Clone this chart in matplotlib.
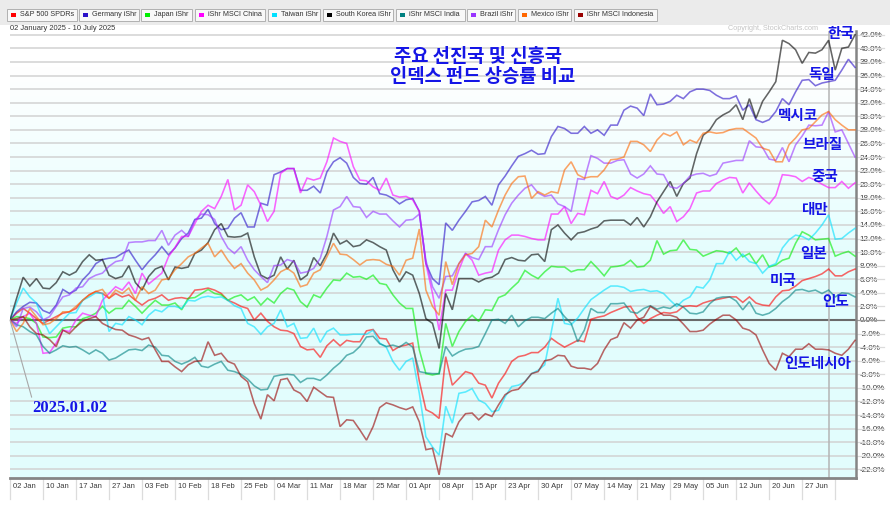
import numpy as np
import pandas as pd
import matplotlib
matplotlib.use("Agg")
import matplotlib.pyplot as plt
from matplotlib import transforms
from matplotlib.patches import Rectangle

# trading days (US market), 02 Jan 2025 - 10 Jul 2025
holidays = ["2025-01-09", "2025-01-20", "2025-02-17", "2025-04-18",
            "2025-05-26", "2025-06-19", "2025-07-04"]
days = pd.bdate_range("2025-01-02", "2025-07-10")
days = days[~days.isin(pd.to_datetime(holidays))]
cursor_day = "2025-07-03"

names = ["S&P 500 SPDRs", "Germany iShr", "Japan iShr", "iShr MSCI China", "Taiwan iShr",
         "South Korea iShr", "iShr MSCI India", "Brazil iShr", "Mexico iShr", "iShr MSCI Indonesia"]
colors = ["#ff0000", "#2a10c8", "#00ee00", "#ff00ff", "#00e0ff",
          "#000000", "#008080", "#9933ff", "#ff6600", "#990000"]
kr_names = ["미국", "독일", "일본", "중국", "대만", "한국", "인도", "브라질", "멕시코", "인도네시아"]

# % change since 02 Jan 2025
usa = [0, 1.0, 1.7, 1.0, 0.2, -0.5, 0, 0.5, 1.0, 1.2, 1.7, 2.9, 3.7, 4.2, 3.9, 3.2, 3.9, 3.4, 3.7, 2.9,
       2.2, 2.9, 3.2, 3.7, 2.9, 3.2, 3.3, 3.1, 4.4, 4.5, 4.7, 4.4, 3.9, 2.9, 2.5, 2.0, 1.7, 0, 1.0, -0.2,
       -1.0, -1.5, -1.6, -2.0, -3.9, -4.4, -4.3, -5.5, -3.8, -2.9, -3.8, -3.0, -3.2, -3.2, -1.6, -1.4,
       -2.7, -2.8, -4.5, -3.9, -3.7, -3.4, -9.0, -13.2, -13.7, -14.5, -5.4, -9.6, -8.6, -7.6, -7.9,
       -9.3, -9.6, -11.5, -9.3, -7.9, -6.1, -5.4, -5.2, -4.8, -4.8, -4.0, -2.7, -3.4, -4.0, -3.5, -3.0,
       -3.2, 0.1, 0.4, 0.6, 1.1, 1.5, 1.9, 2.0, 0.4, -0.5, 0.2, 0.7, 1.1, 1.0, 1.2, 2.0, 2.1, 2.0, 2.5,
       2.8, 3.0, 3.2, 3.4, 3.4, 2.6, 3.4, 2.5, 2.2, 2.1, 3.4, 4.3, 4.4, 5.0, 5.8, 6.1, 6.4, 6.8, 7.5,
       6.5, 6.5, 7.1, 7.5]
germany = [0, 1.2, 2.0, 2.6, 2.5, 1.4, 1.0, 2.2, 4.5, 3.9, 4.4, 5.9, 6.9, 8.3, 8.9, 9.1, 9.2, 9.8, 10.3,
           8.8, 7.4, 8.6, 9.6, 10.8, 9.6, 10.6, 12.0, 12.8, 14.8, 15.0, 16.3, 14.2, 13.3, 13.5, 15.0,
           15.8, 13.7, 13.7, 17.2, 16.9, 21.4, 21.8, 22.3, 22.3, 19.1, 19.1, 19.7, 18.7, 21.8, 23.3,
           23.9, 23.1, 21.0, 20.1, 20.0, 21.0, 18.6, 18.4, 17.9, 17.1, 17.7, 17.9, 16.0, 8.3, 6.1, 5.2,
           14.3, 13.2, 14.7, 16.0, 17.4, 17.6, 18.2, 16.9, 19.9, 21.2, 22.7, 24.1, 24.5, 25.0, 24.4,
           24.5, 27.0, 28.5, 28.2, 27.5, 27.5, 28.5, 27.5, 28.0, 27.2, 28.7, 28.7, 30.9, 31.5, 31.2,
           30.1, 33.3, 31.7, 31.8, 32.2, 33.1, 32.6, 33.6, 34.0, 34.0, 33.8, 33.1, 32.6, 32.6, 33.0,
           30.9, 31.7, 29.5, 29.1, 29.5, 30.7, 32.6, 31.7, 33.6, 35.3, 35.4, 34.5, 34.9, 35.1, 35.3,
           36.8, 38.4, 37.2]
japan = [0, 0.5, 0.4, 0.2, -0.5, -2.5, -2.6, -2.5, -1.2, -1.0, -1.0, 0.2, 0.5, 1.0, 2.0, 1.0, 1.7, 1.7,
         2.9, 2.0, 1.0, 2.0, 2.9, 2.2, 2.2, 2.5, 1.5, 3.2, 3.3, 3.9, 4.5, 3.9, 3.7, 2.9, 3.4, 3.7, 2.9,
         3.4, 2.2, 3.2, 2.5, 3.9, 4.7, 4.4, 2.7, 1.9, 3.7, 3.3, 4.7, 5.9, 5.8, 6.9, 6.3, 6.4, 6.0, 6.6,
         5.4, 5.2, 3.7, 2.5, 1.7, 1.7, -4.4, -7.9, -8.1, -7.9, -0.5, -3.9, -1.7, -0.2, 0.7, -0.2, 1.5,
         1.4, 3.3, 3.7, 4.7, 5.6, 7.3, 6.6, 6.1, 7.1, 7.9, 7.8, 7.8, 7.1, 7.4, 7.4, 8.6, 7.6, 6.5, 7.8,
         7.9, 8.1, 8.8, 7.8, 7.9, 8.8, 11.7, 9.7, 10.2, 10.3, 11.8, 10.4, 10.3, 9.4, 9.8, 10.2, 10.1,
         9.8, 10.6, 9.3, 9.8, 8.3, 9.6, 7.8, 8.1, 8.8, 9.1, 11.3, 13.0, 12.5, 11.8, 11.9, 12.0, 9.4,
         9.8, 10.1, 9.4]
china = [0, -0.5, 0.5, 1.0, -0.5, -4.9, -4.8, -3.4, -1.5, -1.7, 0, 1.0, 0.7, 0.5, 2.9, 3.9, 4.9, 4.4,
         5.6, 3.9, 6.9, 5.3, 6.1, 6.9, 9.3, 10.7, 12.3, 12.3, 14.2, 16.0, 16.9, 16.4, 18.2, 20.7, 16.2,
         16.9, 19.9, 18.9, 16.9, 14.5, 16.0, 21.6, 22.3, 22.3, 18.7, 20.9, 20.6, 20.9, 23.3, 26.8, 26.3,
         26.0, 22.6, 20.6, 20.5, 19.6, 19.1, 20.9, 18.4, 18.1, 18.2, 17.7, 16.0, 8.3, 3.9, -1.5, 4.4,
         4.4, 7.4, 9.8, 8.8, 6.6, 6.9, 7.1, 10.3, 11.8, 12.5, 12.5, 12.3, 12.0, 11.8, 11.8, 15.6, 15.6,
         16.7, 14.2, 15.7, 15.5, 19.1, 18.6, 20.4, 18.2, 17.8, 18.4, 19.5, 19.0, 18.6, 18.4, 17.2,
         15.7, 16.7, 14.5, 15.2, 16.4, 18.7, 19.0, 19.0, 20.1, 20.6, 21.0, 20.9, 18.7, 20.2, 19.0,
         17.9, 17.1, 18.3, 21.4, 21.3, 21.1, 20.4, 21.0, 20.6, 20.0, 19.5, 19.5, 20.4, 19.4, 20.2]
taiwan = [0, 2.5, 4.7, 3.4, 2.5, 0, -2.0, -1.0, 0, 1.0, 1.1, 2.9, 3.4, 4.0, 3.9, -1.7, -0.5, -0.7, 0.5,
          0, -0.7, 0.7, 1.5, 1.2, 2.0, 2.0, 1.7, 2.9, 2.8, 3.3, 3.5, 3.3, 3.4, 2.9, 2.1, 1.7, -0.5,
          -1.0, -2.1, -1.0, -0.5, 1.5, -1.0, -0.5, -2.7, -2.6, -1.2, -3.3, -1.7, -1.2, -2.2, -2.2,
          -2.1, -2.1, -2.1, -1.5, -3.4, -4.0, -6.1, -7.4, -6.1, -5.6, -10.8, -17.2, -18.7, -19.9,
          -12.7, -15.2, -10.8, -10.6, -10.1, -11.8, -12.3, -13.5, -13.3, -11.3, -9.8, -9.6, -9.1,
          -7.9, -7.4, -6.6, -1.7, 3.2, -0.5, -0.7, 0.3, 1.7, 3.0, 3.7, 4.4, 5.0, 5.0, 4.8, 4.2, 4.4,
          4.5, 4.2, 4.3, 3.9, 2.9, 2.0, 2.9, 3.4, 4.9, 4.7, 5.9, 8.3, 8.3, 10.1, 8.8, 9.7, 8.6, 8.3,
          6.9, 7.9, 8.3, 10.6, 11.8, 12.5, 12.3, 11.8, 12.8, 14.0, 15.5, 11.9, 12.0, 12.8, 13.5]
korea = [0, 3.2, 6.3, 5.0, 6.1, 4.7, 4.6, 5.5, 7.1, 6.6, 7.1, 8.6, 9.6, 8.8, 8.9, 6.6, 6.1, 6.4, 8.0,
         5.5, 4.4, 6.4, 7.5, 7.9, 5.9, 7.8, 7.6, 7.8, 9.8, 10.3, 11.4, 13.3, 14.2, 12.3, 12.2, 12.3,
         12.8, 9.3, 6.6, 6.1, 6.6, 9.3, 7.5, 8.8, 5.9, 6.6, 9.2, 8.0, 9.8, 12.8, 11.2, 11.7, 10.8,
         11.0, 11.8, 11.4, 10.8, 10.3, 7.4, 5.6, 7.1, 6.6, 3.9, 0.2, -0.5, -4.2, 3.9, 1.5, 6.1, 6.1,
         6.1, 5.6, 6.1, 6.3, 6.9, 8.9, 9.2, 8.8, 8.7, 9.6, 9.7, 8.6, 13.3, 14.0, 12.8, 11.8, 12.8,
         13.0, 13.4, 13.7, 14.6, 14.7, 14.7, 14.7, 14.0, 15.1, 13.7, 15.2, 17.4, 18.9, 20.4, 18.2,
         20.1, 20.9, 24.5, 27.2, 28.0, 29.5, 30.2, 30.7, 31.7, 29.5, 32.6, 29.7, 32.2, 33.6, 35.1,
         41.2, 40.7, 39.8, 37.8, 39.4, 39.3, 39.8, 41.2, 36.8, 40.0, 40.2, 42.0]
india = [0, -0.7, -1.0, -1.7, -2.2, -3.9, -4.9, -4.4, -3.8, -4.0, -3.9, -4.4, -5.0, -4.4, -4.9, -5.9,
         -5.6, -5.0, -4.4, -4.3, -4.5, -3.7, -4.0, -5.2, -5.3, -6.1, -6.5, -6.1, -5.5, -6.8, -7.0,
         -6.5, -6.1, -7.4, -7.6, -8.0, -8.7, -9.7, -10.3, -10.2, -8.3, -8.1, -8.0, -8.1, -9.2, -8.6,
         -8.6, -8.9, -8.1, -7.1, -6.3, -5.2, -4.8, -3.9, -2.5, -2.4, -3.5, -3.9, -3.7, -4.0, -3.3,
         -4.0, -7.6, -7.8, -7.9, -7.9, -3.9, -5.3, -4.7, -4.3, -4.2, -3.9, -2.0, 0, 0.1, -0.5, 0.7,
         -1.0, -0.1, 0.4, 0.4, 0.2, 1.0, 1.7, 0.5, -0.5, -3.2, -1.5, 1.7, 1.1, 1.1, 2.4, 2.4, 2.5,
         1.2, 1.0, 1.7, 2.1, 1.6, 1.9, 1.7, 2.4, 1.9, 1.0, 0.9, 1.2, 2.4, 3.2, 3.4, 3.4, 2.8, 1.5,
         2.7, 1.0, 0.7, 1.0, 1.7, 2.7, 3.4, 4.4, 4.5, 4.2, 4.4, 3.9, 4.4, 3.4, 4.0, 3.9, 3.4]
brazil = [0, -1.0, 1.7, 1.9, 1.2, 0, 0.5, 2.0, 3.4, 3.7, 4.7, 4.9, 6.1, 6.6, 6.9, 7.9, 8.6, 8.8, 11.4,
          11.5, 11.5, 11.7, 11.7, 13.2, 11.0, 12.5, 13.2, 12.3, 14.7, 15.6, 15.5, 14.8, 12.3, 10.6,
          9.8, 10.8, 8.8, 7.4, 6.4, 5.5, 8.0, 8.1, 8.9, 8.6, 6.9, 7.1, 7.6, 9.1, 12.3, 16.2, 16.7,
          18.2, 16.7, 16.6, 15.1, 16.0, 15.6, 15.6, 14.6, 13.7, 14.7, 14.8, 15.6, 8.8, 4.9, 3.2, 6.4,
          6.5, 8.3, 9.8, 9.2, 8.9, 10.8, 10.8, 13.3, 15.5, 17.2, 18.4, 19.4, 19.9, 18.7, 18.2, 18.4,
          17.1, 16.7, 16.0, 20.8, 20.7, 24.2, 23.8, 23.1, 23.1, 23.5, 23.6, 21.5, 20.9, 21.5, 22.7,
          21.5, 21.4, 19.6, 19.4, 20.1, 21.2, 21.5, 21.6, 21.2, 21.5, 23.1, 23.3, 23.5, 23.5, 26.4,
          25.5, 25.4, 23.7, 23.5, 25.4, 23.3, 25.8, 27.1, 28.7, 28.6, 28.7, 30.7, 27.7, 28.0, 26.0,
          24.0]
mexico = [0, -1.7, -0.5, 1.7, 0.5, -0.7, -0.5, 0.2, 1.2, 1.2, 2.0, 2.9, 3.7, 4.2, 4.5, 3.2, 4.4, 3.9,
          4.7, 2.9, 4.9, 3.9, 4.4, 5.9, 6.1, 7.4, 8.3, 9.3, 9.8, 10.6, 11.3, 9.3, 10.3, 8.8, 7.6, 8.3,
          6.9, 5.9, 4.4, 4.9, 5.9, 7.1, 7.6, 6.9, 4.9, 5.2, 6.9, 7.4, 9.3, 11.3, 9.7, 9.6, 8.9, 8.1,
          8.8, 8.9, 8.8, 8.2, 7.9, 6.6, 8.8, 9.1, 13.4, 4.4, 2.0, 0.7, 8.6, 5.2, 8.3, 9.6, 9.8, 10.8,
          14.7, 13.7, 16.2, 18.4, 20.1, 21.1, 21.2, 17.9, 18.9, 18.4, 18.9, 18.7, 22.1, 23.3, 21.4,
          20.9, 21.1, 21.1, 22.1, 23.6, 23.7, 24.0, 26.3, 26.3, 25.8, 24.8, 26.5, 27.5, 27.1, 27.7,
          25.8, 26.5, 26.1, 27.5, 27.7, 27.5, 27.6, 28.0, 28.2, 28.2, 27.5, 26.8, 25.3, 25.0, 23.3,
          23.3, 25.8, 26.8, 28.0, 28.2, 29.2, 30.2, 30.7, 29.5, 28.7, 28.0, 28.0]
indonesia = [0, 0.2, 0.5, -1.0, -2.0, -2.2, -2.9, -3.9, -1.5, -2.0, -1.0, -0.2, 0.2, 0.5, -0.5, -1.0,
             -1.4, -1.5, -2.2, -2.5, -2.9, -2.6, -4.4, -6.1, -6.1, -6.9, -7.6, -6.6, -6.1, -6.0, -3.2,
             -5.2, -4.9, -6.1, -6.5, -8.3, -9.1, -12.3, -14.6, -11.0, -11.9, -8.8, -8.6, -10.3, -10.8,
             -12.0, -9.9, -10.6, -11.3, -11.4, -15.7, -14.7, -14.8, -16.2, -17.7, -15.7, -12.9, -12.2,
             -12.5, -12.9, -13.2, -12.8, -15.0, -19.1, -18.9, -22.8, -16.7, -17.2, -15.0, -13.8,
             -13.7, -14.7, -13.8, -14.2, -12.5, -11.0, -10.4, -10.2, -9.1, -7.9, -7.6, -6.0, -5.8,
             -5.2, -5.3, -6.8, -7.1, -7.1, -7.3, -6.4, -4.4, -2.9, -2.5, -0.4, -1.2, 0, 0.4, 2.0, 1.4,
             0.7, 0.7, 0.4, -0.6, -1.7, -1.7, -1.5, -0.6, 0.1, 0.7, 0.7, 0, -1.2, -1.5, -2.2, -4.4,
             -6.4, -7.4, -4.9, -5.4, -4.3, -4.3, -3.5, -4.3, -4.3, -4.4, -4.9, -5.2, -4.3, -3.0]

series = [usa, germany, japan, china, taiwan, korea, india, brazil, mexico, indonesia]

W, H = 890, 518


def fx(px):
    return px / W


def fy(py):
    return 1 - py / H


fig = plt.figure(figsize=(W / 100, H / 100), dpi=100)
ax = fig.add_axes([fx(10), fy(478), (856 - 10) / W, (478 - 31) / H])

x = np.arange(len(days))
xmin, xmax = 0, len(days) - 1 + 0.15
ymin, ymax = -23.27, 42.56

# background gradient: white on top, light cyan below
t = np.linspace(0, 1, 256)[:, None]
s = np.clip((t - 0.08) / 0.45, 0, 1)
top = np.array([1.0, 1.0, 1.0])
bot = np.array([0.89, 0.995, 0.995])
grad = (top * (1 - s) + bot * s)[:, None, :]
ax.imshow(grad, extent=(xmin, xmax, ymin, ymax), aspect="auto", zorder=0, origin="upper")

ygrid = np.arange(-22, 43, 2)
trans_r = transforms.blended_transform_factory(ax.transAxes, ax.transData)
for v in ygrid:
    if v == 0:
        continue
    ax.axhline(v, color="#d2d2d2", lw=1.1, zorder=1)
    ax.plot([1.0, 1.033], [v, v], transform=trans_r, clip_on=False, color="#dcdcdc", lw=0.9)
ax.axhline(0, color="#6a6a6a", lw=1.5, zorder=2)
ax.plot([1.0, 1.033], [0, 0], transform=trans_r, clip_on=False, color="#9a9a9a", lw=0.9)

cursor_i = int(np.where(days == pd.Timestamp(cursor_day))[0][0])
ax.axvline(cursor_i, color="#b4b4b4", lw=1.1, zorder=2)

for vals, col in zip(series, colors):
    ax.plot(x, vals, color=col, lw=1.15, alpha=0.6, zorder=3, solid_joinstyle="miter")

ax.set_xlim(xmin, xmax)
ax.set_ylim(ymin, ymax)

# right axis labels
ax.yaxis.tick_right()
ax.set_yticks(ygrid)
ax.set_yticklabels([f"{v:.1f}%" for v in ygrid], fontsize=5.8, color="#3a3a3a",
                   family="Liberation Sans")
ax.tick_params(axis="y", length=0, pad=2.5)

# bottom date labels with separators
ax.set_xticks([])
trans_b = transforms.blended_transform_factory(ax.transData, ax.transAxes)
lab_trans = transforms.offset_copy(trans_b, fig=fig, x=3, y=-8, units="dots")
for i in range(0, len(days), 5):
    ax.plot([i, i], [0, -21 / 447], transform=trans_b, clip_on=False, color="#dcdcdc", lw=0.9)
    if i + 5 < len(days):
        ax.text(i, 0, days[i].strftime("%d %b"), transform=lab_trans, ha="left", va="center",
                fontsize=5.5, color="#3a3a3a", family="Liberation Sans")

for side in ["top", "left"]:
    ax.spines[side].set_visible(False)
ax.spines["right"].set_color("#858585")
ax.spines["right"].set_linewidth(1.8)
ax.spines["bottom"].set_color("#858585")
ax.spines["bottom"].set_linewidth(2.0)

# legend bar
fig.patches.append(Rectangle((0, fy(25)), 1, 25 / H, transform=fig.transFigure,
                             fc="#ebebeb", ec="none", zorder=0))
btn_edges = [(7, 77), (79, 139), (141, 192), (195, 265), (268, 320), (323, 393),
             (396, 465), (467, 515), (518, 571), (574, 657)]
for (l, r), name, col in zip(btn_edges, names, colors):
    fig.patches.append(Rectangle((fx(l), fy(21)), (r - l) / W, 12 / H, transform=fig.transFigure,
                                 fc="#f8f8f8", ec="#b0b0b0", lw=0.7))
    fig.patches.append(Rectangle((fx(l + 4), fy(17.3)), 4.6 / W, 4.6 / H, transform=fig.transFigure,
                                 fc=col, ec="none"))
    fig.text(fx(l + 13), fy(15), name, fontsize=5.2, va="center", color="#333333",
             family="Liberation Sans")

fig.text(fx(10), fy(29), "02 January 2025 - 10 July 2025", fontsize=5.4, va="center",
         color="#333333", family="Liberation Sans")
fig.text(fx(728), fy(29), "Copyright, StockCharts.com", fontsize=5.2, va="center",
         color="#c4c4c4", family="Liberation Sans")

# Korean annotations
blue = "#1515e6"
kfont = ["Noto Sans CJK KR", "DejaVu Sans"]
fig.text(fx(478), fy(57), "주요 선진국 및 신흥국", fontsize=13.5, ha="center", va="center",
         color=blue, family=kfont, fontweight="bold")
fig.text(fx(483), fy(76), "인덱스 펀드 상승률 비교", fontsize=13.5, ha="center", va="center",
         color=blue, family=kfont, fontweight="bold")

label_pos = {"한국": (841, 33), "독일": (822, 74), "멕시코": (798, 115), "브라질": (822, 144),
             "중국": (825, 176), "대만": (814, 209), "일본": (814, 253), "미국": (783, 280),
             "인도": (836, 301), "인도네시아": (818, 363)}
for kr in kr_names:
    px, py = label_pos[kr]
    fig.text(fx(px), fy(py), kr, fontsize=10.5, ha="center", va="center", color=blue,
             family=kfont, fontweight="bold")

ax.annotate(days[0].strftime("%Y.%m.%d"), xy=(0, 0), xycoords="data",
            xytext=(70, H - 408), textcoords="figure pixels", ha="center", va="center",
            fontsize=12, color=blue, family="Liberation Serif", fontweight="bold",
            arrowprops=dict(arrowstyle="-", color="#a8a8a8", lw=0.8, shrinkA=0, shrinkB=0,
                            relpos=(0.0, 1.0)), zorder=5)

fig.savefig("out.png", dpi=100)
